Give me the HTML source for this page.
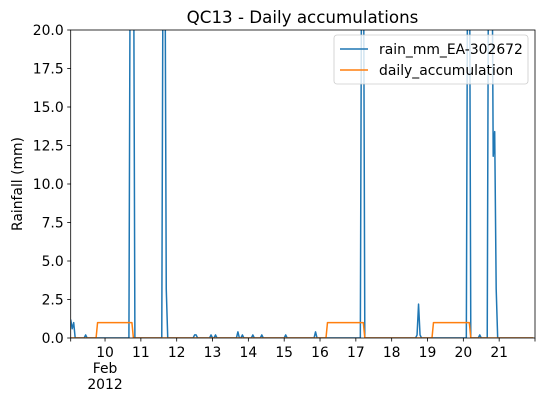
<!DOCTYPE html>
<html><head><meta charset="utf-8"><style>
body{margin:0;background:#fff}
svg text{font-family:"DejaVu Sans","Liberation Sans",sans-serif;fill:#000}
</style></head><body>
<svg id="chart" width="545" height="402" viewBox="0 0 545 402" xmlns="http://www.w3.org/2000/svg"></svg>
<script>
// hours since 2012-02-09 00:00
const rainTimes = [1,2,3,4,5,10,11,12,40,41,42,43,44,45,62,63,64,65,66,67,83,84,85,86,94,95,96,97,98,99,112,113,114,115,116,117,122,123,124,128,129,130,144,145,146,164,165,166,195,196,197,198,232,233,234,235,236,266,267,268,269,270,274,275,276,280,281,282,283,284,285,286,287,311];
const rainValues = [1.2,0.6,1.0,0,0,0,0.2,0,0,30,30,30,0,0,0,30,30,3.2,0,0,0,0.2,0.2,0,0,0.2,0,0,0.2,0,0,0.4,0,0,0.2,0,0,0.2,0,0,0.2,0,0,0.2,0,0,0.4,0,0,30,30,0,0,0.2,2.2,0.2,0,0,30,30,0,0,0,0.2,0,0,30,30,30,11.8,13.4,3.2,0,0];
const accTimes = [1,18,19,42,43,172,173,197,198,243,244,268,269,311];
const accValues = [0,0,1,1,0,0,1,1,0,0,1,1,0,0];
const yTicks = [0,2.5,5,7.5,10,12.5,15,17.5,20];
const dayLabels = ['10','11','12','13','14','15','16','17','18','19','20','21'];

const L=70.7,R=535,T=30,B=338,t0=1,t1=312,yMax=20;
const xs=h=>L+(h-t0)/(t1-t0)*(R-L);
const ys=v=>B-v/yMax*(B-T);
const svg=document.getElementById('chart');
const NS='http://www.w3.org/2000/svg';
function mk(tag,attrs,parent){const e=document.createElementNS(NS,tag);for(const k in attrs)e.setAttribute(k,attrs[k]);(parent||svg).appendChild(e);return e;}

const defs=mk('defs',{});
const cp=mk('clipPath',{id:'clip'},defs);
mk('rect',{x:L,y:T,width:R-L,height:B-T},cp);

const title=mk('text',{x:302.5,y:23,'text-anchor':'middle','font-size':16.7});
title.textContent='QC13 - Daily accumulations';



const yl=mk('text',{x:22,y:184,'text-anchor':'middle','font-size':13.9,transform:'rotate(-90 22 184)'});
yl.textContent='Rainfall (mm)';



yTicks.forEach(v=>{
  const y=ys(v);
  const tk=mk('line',{x1:L-3.5,x2:L,y1:y,y2:y,stroke:'#000','stroke-width':0.8});
  
  
  const t=mk('text',{x:L-7,y:y+5,'text-anchor':'end','font-size':13.9});
  t.textContent=v.toFixed(1);
  
  
});

dayLabels.forEach((d,i)=>{
  const x=xs(24*(i+1));
  const tk=mk('line',{x1:x,x2:x,y1:B,y2:B+3.5,stroke:'#000','stroke-width':0.8});
  
  
  const t=mk('text',{x:x,y:B+19,'text-anchor':'middle','font-size':13.9});
  t.textContent=d;
  
  
});
[L,R].forEach(x=>{
  const tk=mk('line',{x1:x,x2:x,y1:B,y2:B+3.5,stroke:'#000','stroke-width':0.8});
  
  
});
const m1=mk('text',{x:xs(24),y:B+35,'text-anchor':'middle','font-size':13.9});
m1.textContent='Feb';


const m2=mk('text',{x:xs(24),y:B+51,'text-anchor':'middle','font-size':13.9});
m2.textContent='2012';



function line(ts,vs,color,name){
  const pts=ts.map((t,i)=>xs(t).toFixed(2)+','+ys(vs[i]).toFixed(2)).join(' ');
  const p=mk('polyline',{points:pts,fill:'none',stroke:color,'stroke-width':1.5,'clip-path':'url(#clip)','stroke-linejoin':'round'});
  
  
}
line(rainTimes,rainValues,'#1f77b4','rain-series-line');
line(accTimes,accValues,'#ff7f0e','daily-accumulation-line');

const frame=mk('rect',{x:L,y:T,width:R-L,height:B-T,fill:'none',stroke:'#000','stroke-width':0.8});



const lg=mk('g',{});


mk('rect',{x:334,y:35,width:194,height:49,rx:3,fill:'#fff','fill-opacity':0.8,stroke:'#ccc','stroke-width':0.8},lg);
const e1=mk('line',{x1:340,x2:368,y1:49,y2:49,stroke:'#1f77b4','stroke-width':1.5},lg);


const l1=mk('text',{x:379,y:54,'font-size':13.9},lg);l1.textContent='rain_mm_EA-302672';
const e2=mk('line',{x1:340,x2:368,y1:70,y2:70,stroke:'#ff7f0e','stroke-width':1.5},lg);


const l2=mk('text',{x:379,y:75,'font-size':13.9},lg);l2.textContent='daily_accumulation';
</script>
</body></html>
